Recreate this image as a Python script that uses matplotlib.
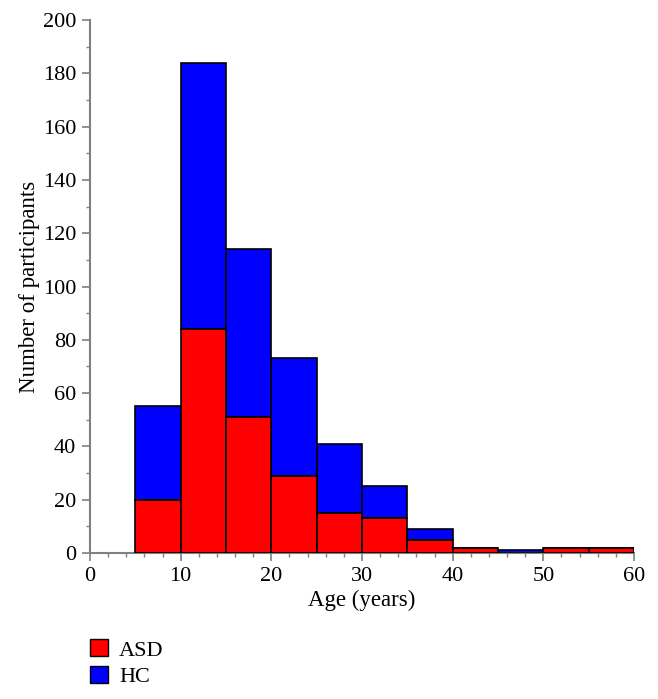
import matplotlib
matplotlib.use("Agg")
import matplotlib.pyplot as plt
from matplotlib.patches import Patch
from matplotlib.ticker import MultipleLocator

bin_edges = [5, 10, 15, 20, 25, 30, 35, 40, 45, 50, 55]
asd = [20, 84, 51, 29, 15, 13, 5, 2, 0, 2, 2]
hc = [35, 100, 63, 44, 26, 12, 4, 0, 1, 0, 0]
bin_width = 5

plt.rcParams['font.family'] = ['Liberation Serif', 'DejaVu Serif']
fig = plt.figure(figsize=(6.58, 6.99), dpi=100)
ax = fig.add_axes([90/658, 1-553/699, (634-90)/658, (553-20)/699])

red = '#FF0000'
blue = '#0000FF'
ax.bar(bin_edges, asd, width=bin_width, align='edge', color=red, edgecolor='black', linewidth=1.2, zorder=3)
ax.bar(bin_edges, hc, width=bin_width, bottom=asd, align='edge', color=blue, edgecolor='black', linewidth=1.2, zorder=2)

ax.set_xlim(0, 60)
ax.set_ylim(0, 200)
ax.xaxis.set_major_locator(MultipleLocator(10))
ax.xaxis.set_minor_locator(MultipleLocator(2))
ax.yaxis.set_major_locator(MultipleLocator(20))
ax.yaxis.set_minor_locator(MultipleLocator(10))
for s in ['top', 'right']:
    ax.spines[s].set_visible(False)
for s in ['left', 'bottom']:
    ax.spines[s].set_color('#808080')
    ax.spines[s].set_linewidth(1.5)
ax.tick_params(which='major', length=6, width=1.2, color='#808080', labelsize=16, labelcolor='black', pad=4)
ax.tick_params(which='minor', length=3, width=1.0, color='#808080')
ax.set_xlabel('Age (years)', fontsize=16.5, labelpad=3)
ax.set_ylabel('Number of participants', fontsize=16.5, labelpad=2)

handles = [Patch(facecolor=red, edgecolor='black', label='ASD'),
           Patch(facecolor=blue, edgecolor='black', label='HC')]
fig.legend(handles=handles, loc='lower left', bbox_to_anchor=(70/658, -0.012), frameon=False,
           fontsize=16, handlelength=0.8, handleheight=0.8, handletextpad=0.5, labelspacing=0.25)

fig.savefig('out.png', dpi=100)
